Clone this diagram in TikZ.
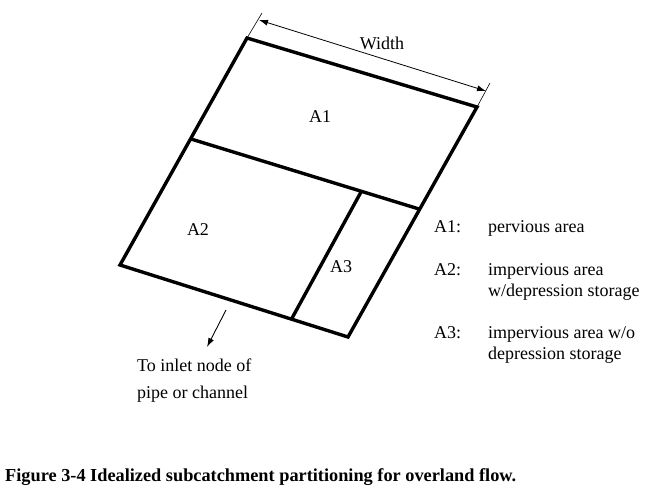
\documentclass[tikz,border=0pt]{standalone}
\usepackage{fontspec}
\setmainfont{Liberation Serif}
\usetikzlibrary{arrows.meta,positioning}
\tikzset{
  boundary/.style={
    line width=3.4pt,
    line join=miter
  },
  dimline/.style={
    {Latex[length=9pt,width=6pt]}-{Latex[length=9pt,width=6pt]},
    line width=0.8pt
  },
  extline/.style={
    line width=0.6pt
  },
  outflow/.style={
    -{Latex[length=9pt,width=6pt]},
    line width=0.9pt
  },
  area/.style={
    inner sep=0pt,
    font=\fontsize{18}{21}\selectfont
  },
  legend/.style={
    inner sep=0pt,
    anchor=base west,
    font=\fontsize{18}{21}\selectfont
  },
  caption/.style={
    inner sep=0pt,
    anchor=base west,
    font=\fontsize{18.3}{21}\selectfont\bfseries
  }
}

\begin{document}
\begin{tikzpicture}[x=1pt,y=-1pt]
  \useasboundingbox (0,0) rectangle (661,496);

  % corners of the subcatchment
  \coordinate (tl) at (247,38);
  \coordinate (tr) at (477,107);
  \coordinate (br) at (348,337);
  \coordinate (bl) at (120,265);
  \coordinate (ml) at (191,139);
  \coordinate (mr) at (419,209);
  \coordinate (dt) at (361,192);
  \coordinate (db) at (291,320);

  \draw[boundary] (tl) -- (tr) -- (br) -- (bl) -- cycle;
  \draw[boundary] (ml) -- (mr);
  \draw[boundary] (dt) -- (db);

  % width dimension
  \coordinate (e1) at (262,13);
  \coordinate (e2) at (490,83);
  \coordinate (w1) at (259,20);
  \coordinate (w2) at (486,91);
  \draw[extline] (tl) -- (e1);
  \draw[extline] (tr) -- (e2);
  \draw[dimline] (w1) -- (w2);
  \node[area] (width) at (382,43) {Width};

  \node[area] (a1) at (320,117) {A1};
  \node[area] (a2) at (198,230) {A2};
  \node[area] (a3) at (341,267) {A3};

  % outlet
  \coordinate (o1) at (226,310);
  \coordinate (o2) at (207,347);
  \draw[outflow] (o1) -- (o2);
  \node[legend] (inlet1) at (137,371) {To inlet node of};
  \node[legend] (inlet2) at (137,398) {pipe or channel};

  % legend
  \node[legend] (k1) at (434,232) {A1:};
  \node[legend] (k2) at (434,275) {A2:};
  \node[legend] (k3) at (434,338) {A3:};
  \node[legend] (d1) at (488,232) {pervious area};
  \node[legend] (d2a) at (488,275) {impervious area};
  \node[legend] (d2b) at (488,296) {w/depression storage};
  \node[legend] (d3a) at (488,338) {impervious area w/o};
  \node[legend] (d3b) at (488,359) {depression storage};

  \node[caption] (fig) at (5,481) {Figure 3-4 Idealized subcatchment partitioning for overland flow.};
\end{tikzpicture}
\end{document}
